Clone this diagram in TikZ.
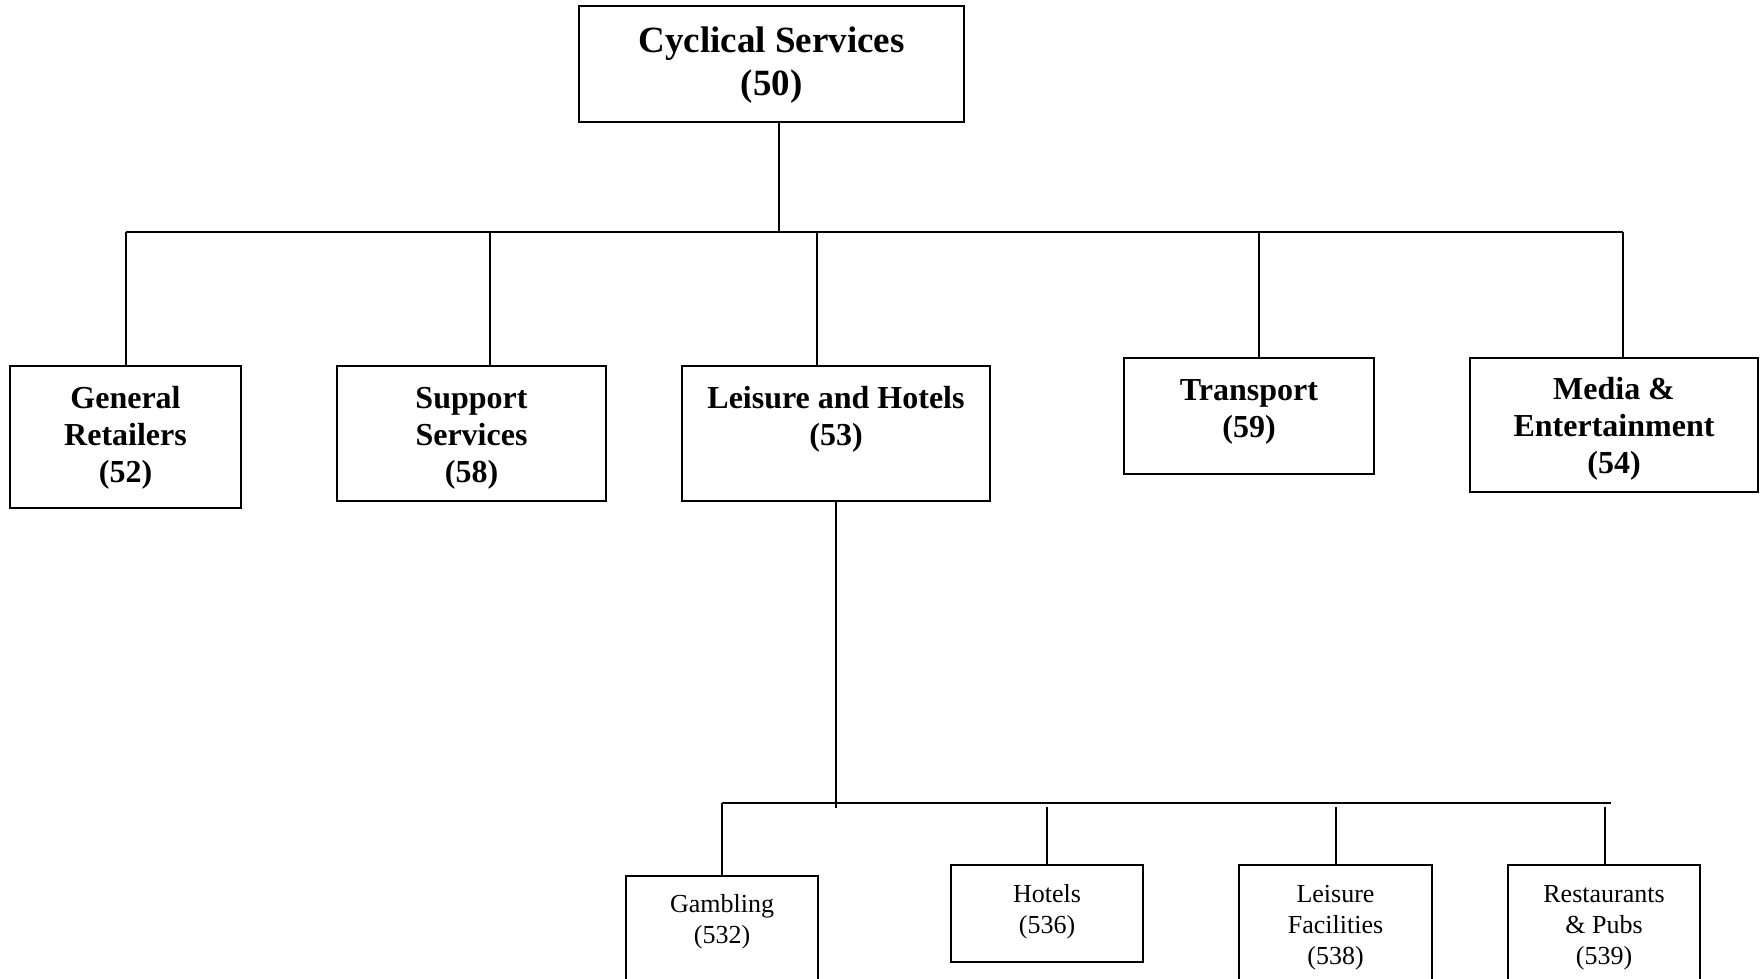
\documentclass[tikz,border=0pt]{standalone}
\usepackage{fontspec}
\setmainfont{Liberation Serif}
\newcommand{\lines}[1]{\begin{tabular}[t]{@{}c@{}}#1\end{tabular}}
\begin{document}
\begin{tikzpicture}[x=1pt,y=-1pt,
  box/.style={draw, line width=2.2pt, rectangle, inner sep=0pt, outer sep=0pt},
  conn/.style={line width=2pt},
  ttop/.style={font=\fontsize{37}{43}\selectfont\bfseries, inner sep=0pt, anchor=base},
  tmid/.style={font=\fontsize{32}{37}\selectfont\bfseries, inner sep=0pt, anchor=base},
  tlow/.style={font=\fontsize{26}{31}\selectfont, inner sep=0pt, anchor=base}]
\useasboundingbox (0,0) rectangle (1763,979);
\clip (0,0) rectangle (1763,979);
% boxes
\node[box, minimum width=385pt, minimum height=116pt] (cs) at (771.5,64) {};
\node[box, minimum width=231pt, minimum height=142pt] (gr) at (125.5,437) {};
\node[box, minimum width=269pt, minimum height=135pt] (ss) at (471.5,433.5) {};
\node[box, minimum width=308pt, minimum height=135pt] (lh) at (836,433.5) {};
\node[box, minimum width=250pt, minimum height=116pt] (tr) at (1249,416) {};
\node[box, minimum width=288pt, minimum height=134pt] (me) at (1614,425) {};
\node[box, minimum width=192pt, minimum height=124pt] (ga) at (722,938) {};
\node[box, minimum width=192pt, minimum height=97pt] (ho) at (1047,913.5) {};
\node[box, minimum width=193pt, minimum height=135pt] (lf) at (1335.5,932.5) {};
\node[box, minimum width=192pt, minimum height=135pt] (rp) at (1604,932.5) {};
% texts
\node[ttop] (cs-t) at ([yshift=-47pt]cs.north) {\lines{Cyclical Services\\(50)}};
\node[tmid] (gr-t) at ([yshift=-42pt]gr.north) {\lines{General\\Retailers\\(52)}};
\node[tmid] (ss-t) at ([yshift=-42pt]ss.north) {\lines{Support\\Services\\(58)}};
\node[tmid] (lh-t) at ([yshift=-42pt]lh.north) {\lines{Leisure and Hotels\\(53)}};
\node[tmid] (tr-t) at ([yshift=-42pt]tr.north) {\lines{Transport\\(59)}};
\node[tmid] (me-t) at ([yshift=-41pt]me.north) {\lines{Media \&\\Entertainment\\(54)}};
\node[tlow] (ga-t) at ([yshift=-36pt]ga.north) {\lines{Gambling\\(532)}};
\node[tlow] (ho-t) at ([yshift=-37pt]ho.north) {\lines{Hotels\\(536)}};
\node[tlow] (lf-t) at ([yshift=-37pt]lf.north) {\lines{Leisure\\Facilities\\(538)}};
\node[tlow] (rp-t) at ([yshift=-37pt]rp.north) {\lines{Restaurants\\\& Pubs\\(539)}};
% upper bus
\coordinate (bus) at (0,232);
\draw[conn] ([xshift=7.5pt]cs.south) -- ([xshift=7.5pt]cs.south |- bus);
\draw[conn] (gr.north |- bus) -- ([xshift=9pt]me.north |- bus);
\draw[conn] (gr.north) -- (gr.north |- bus);
\draw[conn] ([xshift=18.5pt]ss.north) -- ([xshift=18.5pt]ss.north |- bus);
\draw[conn] ([xshift=-19pt]lh.north) -- ([xshift=-19pt]lh.north |- bus);
\draw[conn] ([xshift=10pt]tr.north) -- ([xshift=10pt]tr.north |- bus);
\draw[conn] ([xshift=9pt]me.north) -- ([xshift=9pt]me.north |- bus);
% lower bus
\coordinate (bus2) at (0,803);
\coordinate (bus2b) at (0,807);
\coordinate (bus2c) at (0,808);
\draw[conn] (lh.south) -- (lh.south |- bus2c);
\draw[conn] (ga.north |- bus2) -- ([xshift=7pt]rp.north |- bus2);
\draw[conn] (ga.north) -- (ga.north |- bus2);
\draw[conn] (ho.north) -- (ho.north |- bus2b);
\draw[conn] (lf.north) -- (lf.north |- bus2b);
\draw[conn] ([xshift=1pt]rp.north) -- ([xshift=1pt]rp.north |- bus2b);
\end{tikzpicture}
\end{document}
